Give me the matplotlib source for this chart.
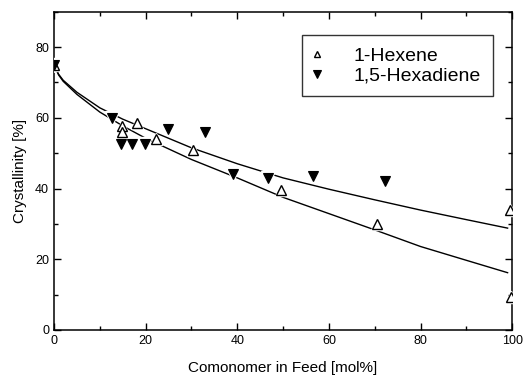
import matplotlib
matplotlib.use("Agg")
import matplotlib.pyplot as plt
from matplotlib.ticker import MultipleLocator

plt.rcParams['font.family'] = ['Liberation Sans', 'DejaVu Sans']

# Data
hexene_x = [0, 14.8, 14.8, 18.2, 22.3, 30.4, 49.5, 70.6, 99.6, 99.8]
hexene_y = [75, 57.8, 56.0, 58.4, 54.0, 51.0, 39.7, 29.9, 33.9, 9.4]

hexadiene_x = [0, 12.7, 14.6, 17.0, 19.9, 24.8, 33.0, 39.0, 46.7, 56.6, 72.3]
hexadiene_y = [75, 59.8, 52.7, 52.7, 52.5, 56.7, 55.9, 44.1, 43.1, 43.5, 42.1]

# Fit curves
upper_x = [0, 1, 2, 5, 10, 15, 20, 30, 40, 50, 60, 70, 80, 90, 99]
upper_y = [75, 72.3, 70.6, 67.2, 62.8, 59.6, 56.9, 51.5, 47.0, 43.0, 39.8, 36.8, 33.9, 31.2, 28.8]
lower_x = [0, 1, 2, 5, 10, 15, 20, 30, 40, 50, 60, 70, 80, 90, 99]
lower_y = [75, 72.1, 70.3, 66.6, 61.6, 57.7, 54.2, 48.2, 43.0, 37.5, 32.9, 28.3, 23.6, 19.7, 16.2]

x_ticks = [0, 20, 40, 60, 80, 100]
y_ticks = [0, 20, 40, 60, 80]

fig = plt.figure(figsize=(5.23, 3.75), dpi=100)
ax = fig.add_axes([0.1033, 0.12, 0.876, 0.849])

ax.plot(upper_x, upper_y, color='black', lw=1.0, zorder=2)
ax.plot(lower_x, lower_y, color='black', lw=1.0, zorder=2)

# white halos for gaps around markers
ax.plot(hexene_x, hexene_y, linestyle='none', marker='^', ms=9, mfc='white', mec='white', zorder=3)
ax.plot(hexadiene_x, hexadiene_y, linestyle='none', marker='v', ms=10, mfc='white', mec='white', zorder=3)

h1, = ax.plot(hexene_x, hexene_y, linestyle='none', marker='^', ms=6.5, mfc='white', mec='black', mew=1.0, zorder=4, label='1-Hexene')
h2, = ax.plot(hexadiene_x, hexadiene_y, linestyle='none', marker='v', ms=7.5, mfc='black', mec='black', mew=0.8, zorder=5, label='1,5-Hexadiene')

ax.set_xlim(0, 100)
ax.set_ylim(0, 90)
ax.set_xticks(x_ticks)
ax.set_yticks(y_ticks)
ax.xaxis.set_minor_locator(MultipleLocator(10))
ax.yaxis.set_minor_locator(MultipleLocator(10))
ax.tick_params(which='both', direction='in', top=True, right=True, labelsize=9, colors='black')
ax.tick_params(which='major', length=5, width=1.0)
ax.tick_params(which='minor', length=3, width=1.0)
for s in ax.spines.values():
    s.set_linewidth(1.1)

ax.set_xlabel('Comonomer in Feed [mol%]', fontsize=11, labelpad=10)
ax.set_ylabel('Crystallinity [%]', fontsize=11, labelpad=6)

leg = ax.legend(handles=[h1, h2], loc='upper left',
                bbox_to_anchor=(302 / 523, 1 - 35 / 375), bbox_transform=fig.transFigure,
                fontsize=14, frameon=True, fancybox=False, edgecolor='black',
                borderpad=0.62, borderaxespad=0, handlelength=0.3, handletextpad=1.72,
                markerscale=0.75, labelspacing=0.11)
leg.get_frame().set_linewidth(1.0)

fig.savefig('out.png', dpi=100)
